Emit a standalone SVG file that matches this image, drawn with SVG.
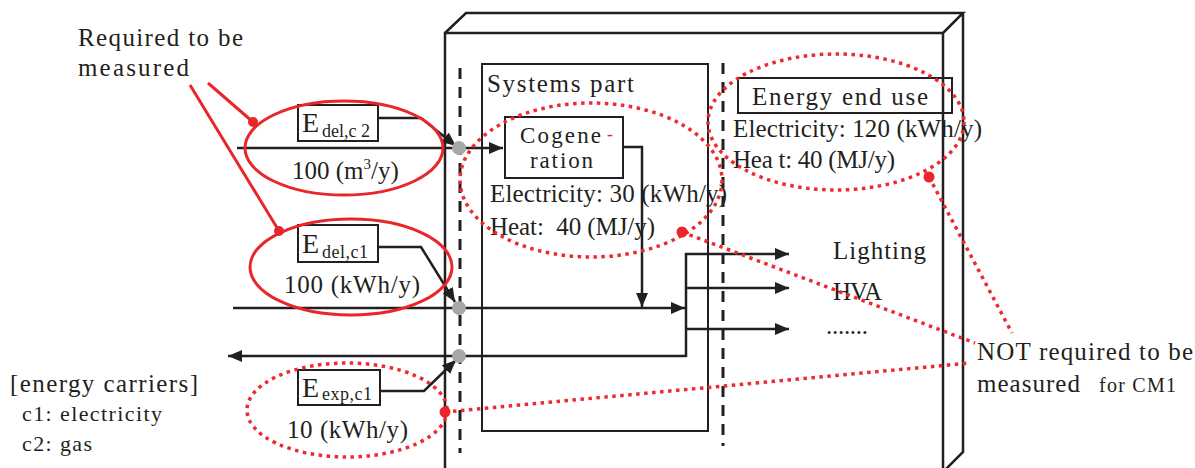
<svg xmlns="http://www.w3.org/2000/svg" width="1195" height="468" viewBox="0 0 1195 468">
<defs>
<style>
.t{font-family:"Liberation Serif","Times New Roman",serif;fill:#231f20;font-size:25px}
.s{font-size:18px}
.ln{fill:none;stroke:#231f20;stroke-width:2.5}
.box{fill:#fff;stroke:#231f20;stroke-width:2}
.dash{fill:none;stroke:#231f20;stroke-width:3;stroke-dasharray:11 8}
.rs{fill:none;stroke:#e8262b;stroke-width:3}
.rd{fill:none;stroke:#ee2a2f;stroke-width:3.5;stroke-dasharray:3.5 4.5}
.dot{fill:#a7a7a9}
.rdot{fill:#e8262b}
</style>
<marker id="ah" viewBox="0 0 14 12" refX="14" refY="6" markerWidth="14" markerHeight="12" markerUnits="userSpaceOnUse" orient="auto">
<path d="M0,0 L14,6 L0,12 Z" fill="#231f20"/>
</marker>
</defs>
<rect width="1195" height="468" fill="#fff"/>

<g id="building">
<path class="ln" d="M445,475 L445,33 L943,33 L943,475 M445,33 L466,13 L963,13 L943,33 M963,13 L963,452 L940,475"/>
</g>

<g id="systems-part">
<rect x="482" y="64" width="226" height="367" class="box" style="fill:none"/>
<text class="t" x="487" y="92" textLength="147">Systems part</text>
</g>

<g id="boundaries">
<line class="dash" x1="460" y1="68" x2="460" y2="453"/>
<line class="dash" x1="723" y1="63" x2="723" y2="446"/>
</g>

<g id="cogeneration">
<rect x="505" y="117" width="118" height="61" class="box"/>
<text class="t" x="520" y="143" style="font-size:23px" textLength="81">Cogene</text>
<text class="t" x="607" y="140" style="fill:#e8262b;font-size:18px">-</text>
<text class="t" x="530" y="168" style="font-size:23px" textLength="63">ration</text>
<text class="t" x="490" y="202" textLength="237">Electricity: 30 (kWh/y)</text>
<text class="t" x="490" y="235" textLength="165" xml:space="preserve">Heat:  40 (MJ/y)</text>
</g>

<g id="energy-end-use">
<rect x="738" y="78" width="214" height="35" class="box" style="fill:none"/>
<text class="t" x="752" y="105" textLength="176">Energy end use</text>
<text class="t" x="733" y="137" textLength="249">Electricity: 120 (kWh/y)</text>
<text class="t" x="733" y="168" textLength="162">Hea t: 40 (MJ/y)</text>
</g>

<g id="end-uses">
<text class="t" x="833" y="259" textLength="93">Lighting</text>
<text class="t" x="833" y="300" textLength="49">HVA</text>
<text class="t" x="826" y="334" textLength="42">.......</text>
</g>

<g id="connectors">
<line class="ln" x1="237" y1="148" x2="503" y2="148" marker-end="url(#ah)"/>
<line class="ln" x1="233" y1="308" x2="685" y2="308" marker-end="url(#ah)"/>
<line class="ln" x1="686" y1="356" x2="228" y2="356" marker-end="url(#ah)"/>
<polyline class="ln" points="623,147 642,147 642,307" marker-end="url(#ah)"/>
<line class="ln" x1="686" y1="253" x2="686" y2="357"/>
<line class="ln" x1="685" y1="254" x2="789" y2="254" marker-end="url(#ah)"/>
<line class="ln" x1="685" y1="288" x2="789" y2="288" marker-end="url(#ah)"/>
<line class="ln" x1="685" y1="329" x2="789" y2="329" marker-end="url(#ah)"/>
<polyline class="ln" points="378,118 421,118 456,146" marker-end="url(#ah)"/>
<polyline class="ln" points="378,247 421,247 455,302" marker-end="url(#ah)"/>
<polyline class="ln" points="380,391 424,391 456,360" marker-end="url(#ah)"/>
</g>

<g id="meters">
<circle class="dot" cx="459" cy="148" r="7"/>
<circle class="dot" cx="459" cy="308" r="7"/>
<circle class="dot" cx="459" cy="356" r="7"/>
</g>

<g id="edel-c2">
<rect x="298" y="105" width="80" height="36" class="box"/>
<text class="t" x="302" y="132" style="font-size:28px">E</text>
<text class="t s" x="322" y="137" textLength="48" xml:space="preserve">del,c 2</text>
<text class="t" x="292" y="179">100 (m<tspan dy="-10" style="font-size:15px">3</tspan><tspan dy="10">/y)</tspan></text>
</g>

<g id="edel-c1">
<rect x="298" y="225" width="80" height="37" class="box"/>
<text class="t" x="302" y="253" style="font-size:28px">E</text>
<text class="t s" x="322" y="258" textLength="46">del,c1</text>
<text class="t" x="284" y="293" textLength="136">100 (kWh/y)</text>
</g>

<g id="eexp-c1">
<rect x="298" y="370" width="82" height="35" class="box"/>
<text class="t" x="302" y="397" style="font-size:28px">E</text>
<text class="t s" x="322" y="400" textLength="50">exp,c1</text>
<text class="t" x="287" y="438" textLength="121">10 (kWh/y)</text>
</g>

<g id="legend">
<text class="t" x="10" y="392" textLength="188">[energy carriers]</text>
<text class="t" x="22" y="421" style="font-size:22px" textLength="140">c1: electricity</text>
<text class="t" x="22" y="451" style="font-size:22px" textLength="70">c2: gas</text>
</g>

<g id="required-label">
<text class="t" x="78" y="46" textLength="165">Required to be</text>
<text class="t" x="78" y="76" textLength="111">measured</text>
<ellipse class="rs" cx="344" cy="148" rx="99" ry="47"/>
<ellipse class="rs" cx="351" cy="267" rx="101" ry="48"/>
<line class="rs" x1="208" y1="83" x2="253" y2="122"/>
<line class="rs" x1="190" y1="85" x2="279" y2="231"/>
<circle class="rdot" cx="253" cy="122" r="5"/>
<circle class="rdot" cx="279" cy="231" r="5"/>
</g>

<g id="not-required-label">
<ellipse class="rd" cx="347" cy="410" rx="100" ry="47"/>
<ellipse class="rd" cx="591" cy="180" rx="131" ry="77"/>
<ellipse class="rd" cx="836" cy="122" rx="128" ry="68"/>
<line class="rd" x1="445" y1="412" x2="970" y2="363"/>
<line class="rd" x1="682" y1="232" x2="975" y2="343"/>
<line class="rd" x1="929" y1="177" x2="1012" y2="333"/>
<circle class="rdot" cx="445" cy="412" r="5.5"/>
<circle class="rdot" cx="682" cy="232" r="5.5"/>
<circle class="rdot" cx="929" cy="177" r="5.5"/>
<text class="t" x="977" y="360" textLength="216">NOT required to be</text>
<text class="t" x="977" y="392" textLength="103">measured</text>
<text class="t" x="1099" y="392" style="font-size:20px" textLength="77">for CM1</text>
</g>
</svg>
